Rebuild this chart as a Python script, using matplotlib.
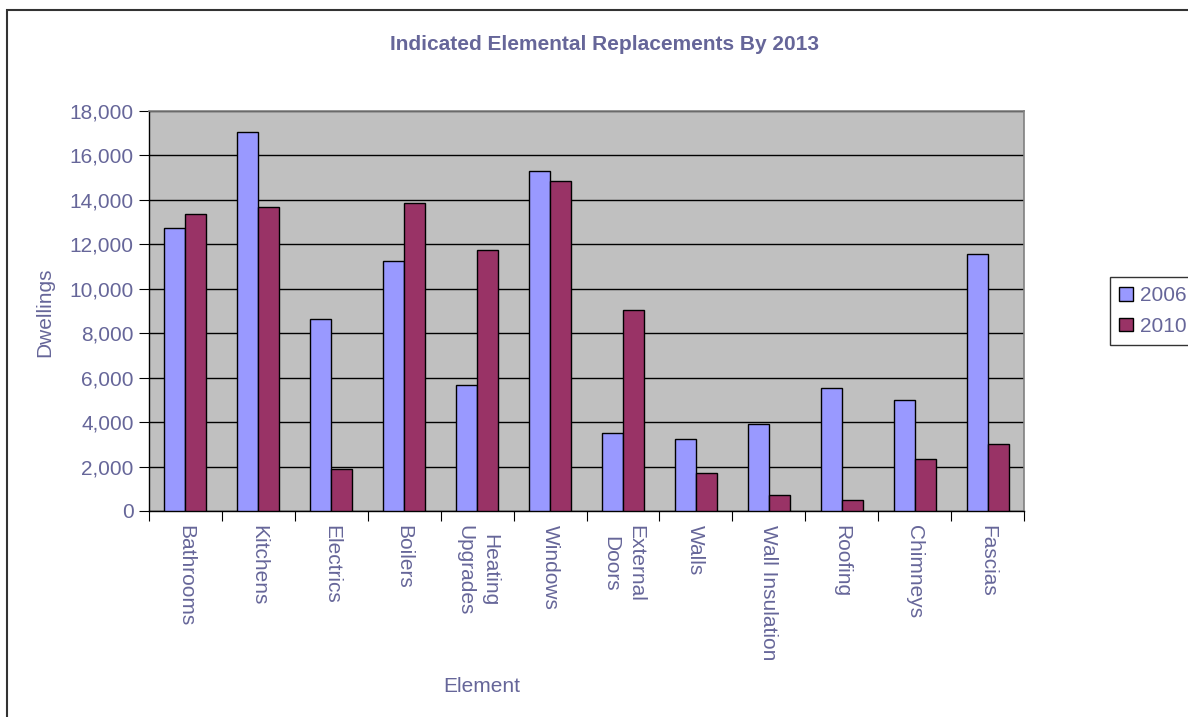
import matplotlib
matplotlib.use("Agg")
import matplotlib.pyplot as plt
import numpy as np
from matplotlib.patches import Rectangle

categories = ["Bathrooms", "Kitchens", "Electrics", "Boilers", "Heating\nUpgrades",
              "Windows", "External\nDoors", "Walls", "Wall Insulation", "Roofing",
              "Chimneys", "Fascias"]
series_names = ["2006", "2010"]
vals_2006 = [12730, 17060, 8640, 11240, 5650, 15310, 3510, 3250, 3900, 5530, 5000, 11570]
vals_2010 = [13370, 13700, 1870, 13840, 11760, 14870, 9030, 1690, 720, 510, 2340, 3000]
yticks = [0, 2000, 4000, 6000, 8000, 10000, 12000, 14000, 16000, 18000]

TXT = "#666699"
plt.rcParams['font.family'] = ['Liberation Sans', 'DejaVu Sans']
FS = 15

W, H = 1188, 717
fig = plt.figure(figsize=(W/100, H/100), dpi=100)
ax = fig.add_axes([149/W, 1-511/H, (1024-149)/W, (511-111)/H])
ax.set_facecolor("#C0C0C0")

x = np.arange(len(categories))
bw = 0.288
b1 = ax.bar(x - bw/2, vals_2006, bw, color="#9999FF", edgecolor="black", linewidth=1, label=series_names[0], zorder=3)
b2 = ax.bar(x + bw/2, vals_2010, bw, color="#993366", edgecolor="black", linewidth=1, label=series_names[1], zorder=3)

ax.set_ylim(0, 18000)
ax.set_xlim(-0.5, len(categories)-0.5)
ax.set_yticks(yticks)
ax.set_yticklabels([f"{v:,}" for v in yticks], color=TXT, fontsize=FS)
ax.yaxis.grid(True, color="black", linewidth=1, zorder=1)
ax.set_axisbelow(True)

ax.set_xticks(np.arange(len(categories)+1) - 0.5)
ax.set_xticklabels([])
ax.set_xticks(x, minor=True)
ax.set_xticklabels(categories, minor=True, rotation=-90, color=TXT, fontsize=FS,
                   va="top", ha="center", linespacing=1.4)
ax.tick_params(axis="x", which="minor", length=0, pad=10)
ax.tick_params(axis="x", which="major", length=7, direction="out", color="black")
ax.tick_params(axis="y", length=7, direction="out", color="black", pad=4)

for s in ["left", "bottom"]:
    ax.spines[s].set_color("black")
    ax.spines[s].set_linewidth(1)
for s in ["top", "right"]:
    ax.spines[s].set_color("#808080")
    ax.spines[s].set_linewidth(1.2)

fig.text(45/W, 1-312/H, "Dwellings", rotation=90, color=TXT, fontsize=FS, ha="center", va="center")
fig.text(482/W, 1-686/H, "Element", color=TXT, fontsize=FS, ha="center", va="center")
fig.text(604/W, 1-44/H, "Indicated Elemental Replacements By 2013", color=TXT,
         fontsize=15, fontweight="bold", ha="center", va="center")

leg = fig.legend(handles=[b1, b2], labels=series_names, loc="upper left",
                 bbox_to_anchor=(1110/W, 1-277/H), frameon=True, fancybox=False,
                 edgecolor="black", fontsize=FS, handlelength=0.63, handleheight=0.63,
                 handletextpad=0.34, borderpad=0.45, labelspacing=0.55, borderaxespad=0)
for t in leg.get_texts():
    t.set_color(TXT)
leg.get_frame().set_linewidth(1)

fig.patches.append(Rectangle((7/W, -0.1), 1.2, 1+0.1-10/H, transform=fig.transFigure,
                             fill=False, edgecolor="#333333", linewidth=1.5))

fig.savefig("out.png", dpi=100)
